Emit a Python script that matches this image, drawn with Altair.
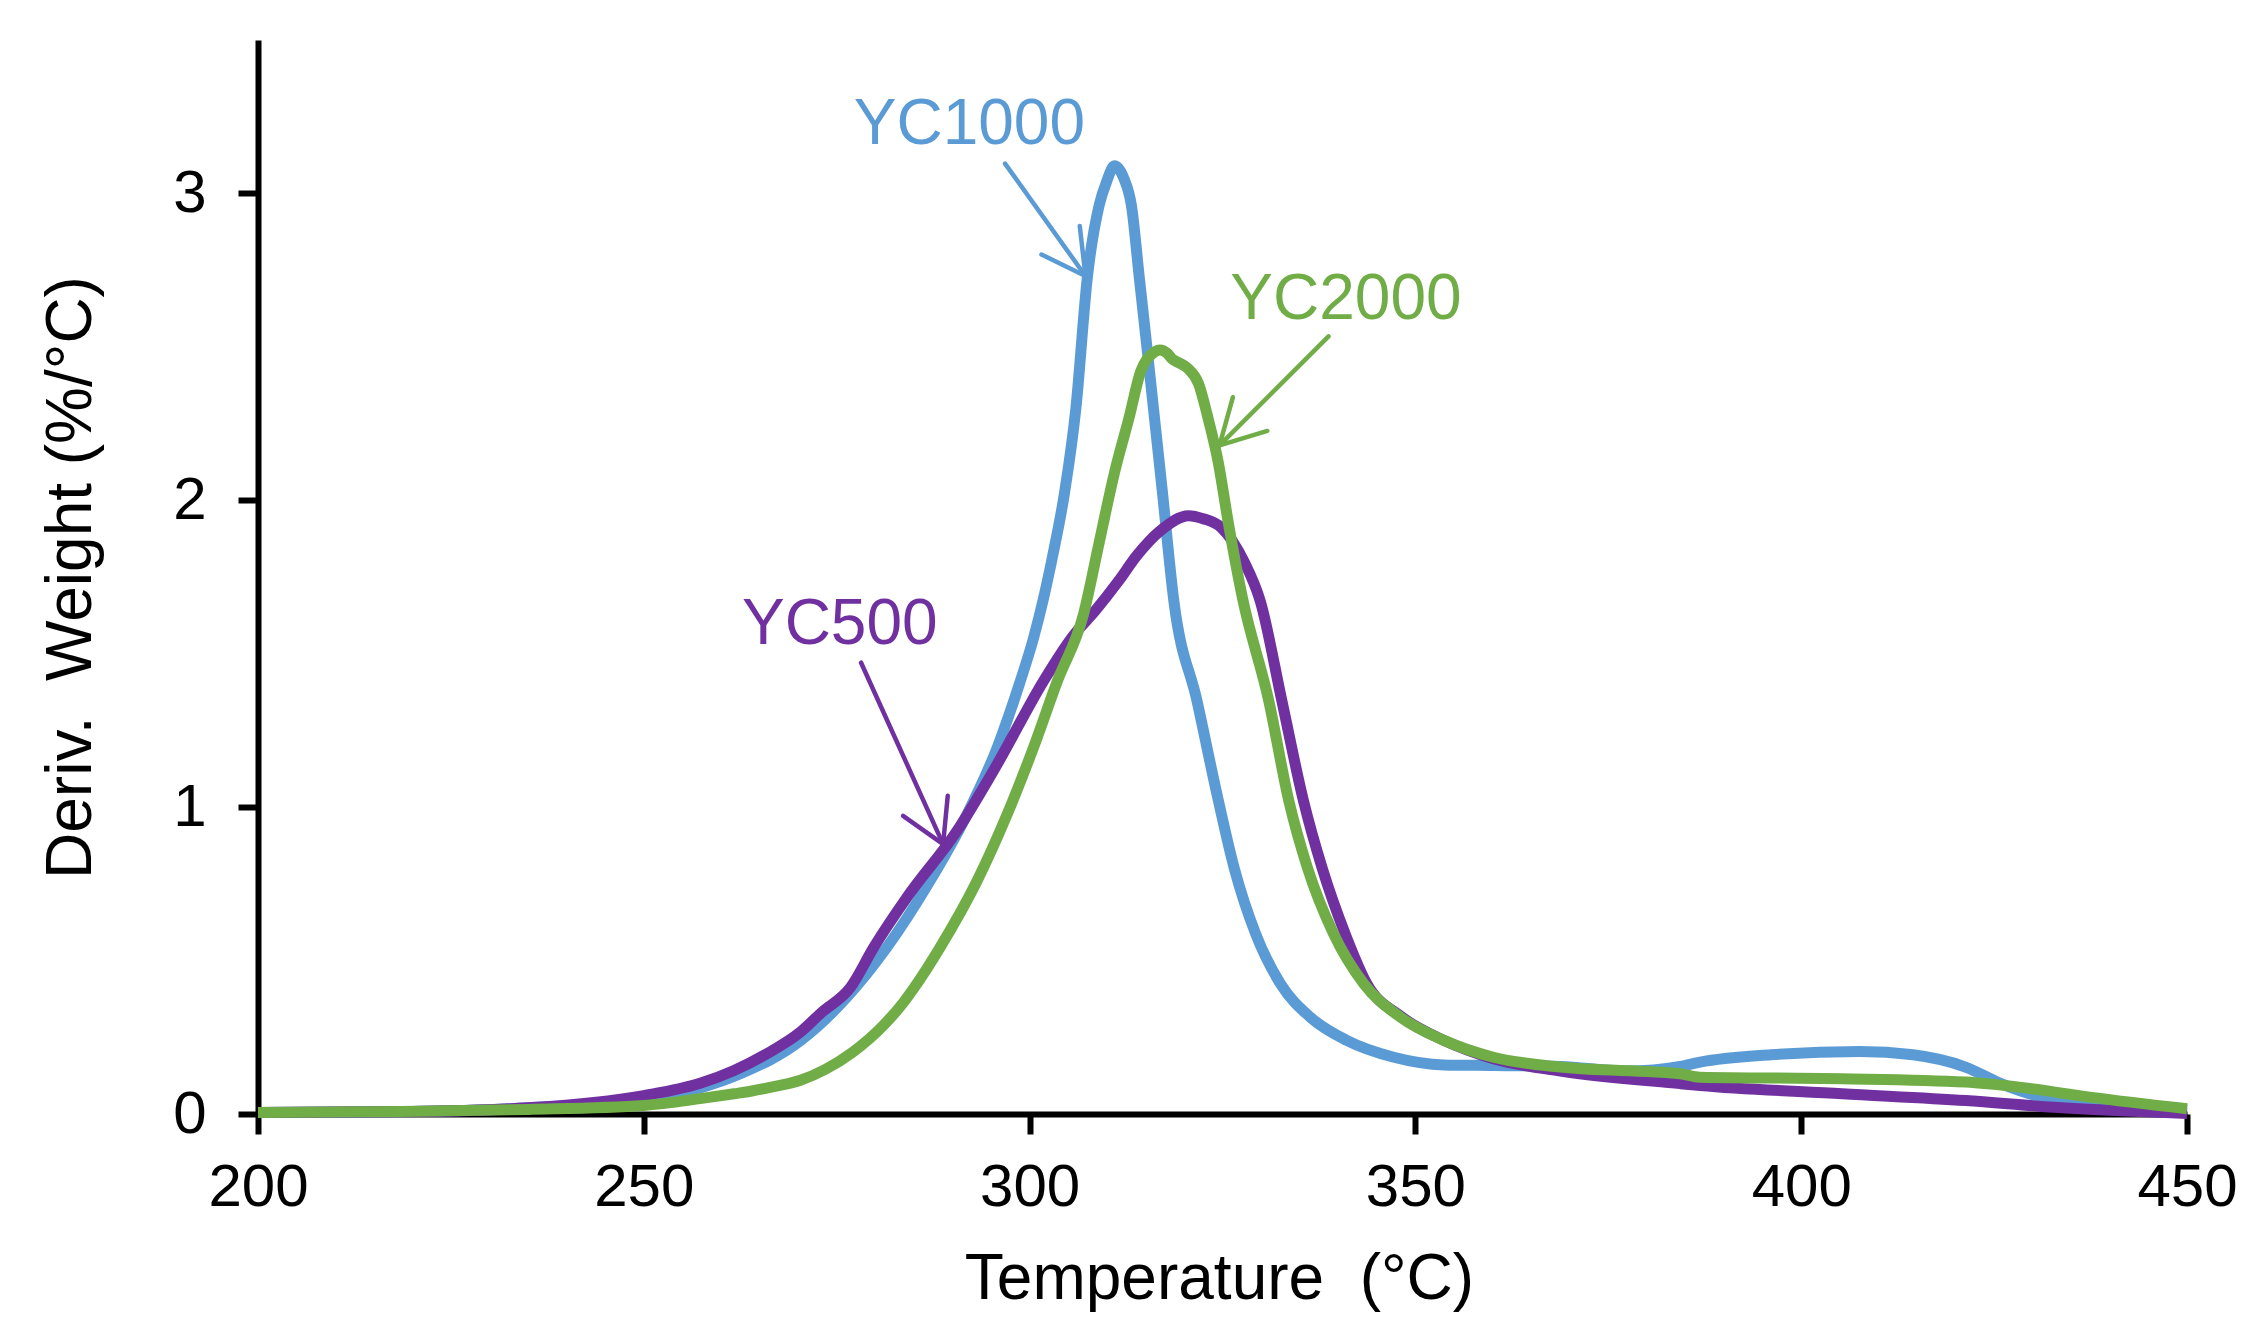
import pandas as pd
import altair as alt

# --- curves (temperature in C, deriv. weight in %/C) ---
temp_yc1000 = [200, 220, 235, 250, 257.3, 262.5, 270.3, 276.3, 281.5, 287.1, 291.9, 295.8,
               298.8, 300.5, 301.8, 303.0, 304.5, 306.0, 307.5, 309.0, 310.0, 311.0, 312.2,
               313.2, 314.2, 315.2, 317.2, 318.7, 321.7, 324.3, 326.5, 329.3, 332.5, 336.4,
               341.1, 347.2, 353.7, 360.1, 368.8, 377.4, 384.3, 386.9, 396.1, 407.6, 414.5,
               421.3, 425.9, 430.5, 439.7, 450]
dtg_yc1000 = [0.005, 0.008, 0.02, 0.05, 0.085, 0.131, 0.239, 0.38, 0.543, 0.76, 0.977, 1.194,
              1.411, 1.55, 1.68, 1.82, 2.02, 2.3, 2.73, 2.96, 3.04, 3.09, 3.05,
              2.96, 2.73, 2.5, 2.03, 1.671, 1.346, 1.04, 0.803, 0.587, 0.425, 0.315,
              0.24, 0.185, 0.16, 0.158, 0.155, 0.14, 0.155, 0.169, 0.193, 0.204, 0.193,
              0.153, 0.099, 0.06, 0.033, 0.012]

temp_yc2000 = [200, 218.5, 235, 250, 257.3, 261.7, 264, 267, 270.3, 273.5, 277, 281.1, 283.7,
               285.0, 288.4, 293.2, 297.1, 300.5, 303.6, 307.0, 309.0, 311.0, 312.9, 314.4,
               316.0, 316.9, 317.8, 318.5, 319.2, 320.5, 321.9, 323.1, 324.4, 325.8, 327.6,
               331.0, 333.6, 336.0, 339.4, 343.3, 348.1, 353.7, 360.1, 368.8, 384.3, 386.9,
               405.3, 421.3, 428.2, 437.4, 450]
dtg_yc2000 = [0.005, 0.008, 0.015, 0.028, 0.05, 0.066, 0.075, 0.09, 0.11, 0.145, 0.2, 0.29, 0.365,
              0.41, 0.543, 0.76, 0.977, 1.194, 1.411, 1.63, 1.86, 2.09, 2.27, 2.42,
              2.48, 2.49, 2.48, 2.46, 2.45, 2.43, 2.38, 2.27, 2.13, 1.92, 1.68,
              1.346, 1.02, 0.803, 0.587, 0.425, 0.315, 0.24, 0.185, 0.153, 0.131, 0.12,
              0.115, 0.104, 0.0875, 0.055, 0.017]

temp_yc500 = [200, 220, 235, 250, 257.3, 261.7, 266.0, 270.3, 273.0, 276.8, 279.8, 284.1,
              290.6, 295.8, 301.8, 305.7, 308.5, 311.5, 313.9, 316.9, 320.6, 322.5, 324.9,
              327.8, 329.9, 332.7, 335.5, 337.9, 340.9, 343.7, 348.3, 353.7, 360.1, 368.8,
              384.3, 386.9, 405.3, 421.3, 432.8, 450]
dtg_yc500 = [0.005, 0.008, 0.02, 0.06, 0.1, 0.142, 0.197, 0.267, 0.33, 0.413, 0.543, 0.706,
             0.923, 1.14, 1.411, 1.56, 1.64, 1.736, 1.82, 1.9, 1.95, 1.94, 1.91,
             1.8, 1.671, 1.346, 1.02, 0.803, 0.587, 0.425, 0.315, 0.24, 0.18, 0.14,
             0.099, 0.093, 0.066, 0.044, 0.022, 0.002]

# --- labels and arrows (data coordinates) ---
label_names = ["YC1000", "YC2000", "YC500"]
label_temp = [292.2, 341.0, 275.4]
label_dtg = [3.161, 2.592, 1.532]

arrow_names = ["YC1000", "YC1000", "YC1000", "YC2000", "YC2000", "YC2000", "YC500", "YC500", "YC500"]
arrow_t1 = [296.82, 307.24, 307.24, 338.74, 324.61, 324.61, 278.16, 288.79, 288.79]
arrow_v1 = [3.097, 2.731, 2.731, 2.534, 2.179, 2.179, 1.4707, 0.8795, 0.8795]
arrow_t2 = [307.24, 306.50, 301.54, 324.61, 326.35, 330.81, 288.79, 289.39, 283.60]
arrow_v2 = [2.731, 2.894, 2.801, 2.179, 2.336, 2.226, 0.8795, 1.0368, 0.9717]

x_ticks = [200, 250, 300, 350, 400, 450]
y_ticks = [0, 1, 2, 3]

names = ["YC1000", "YC500", "YC2000"]
colors = {"YC1000": "#5B9BD5", "YC500": "#7030A0", "YC2000": "#70AD47"}
curves = {
    "YC1000": (temp_yc1000, dtg_yc1000),
    "YC500": (temp_yc500, dtg_yc500),
    "YC2000": (temp_yc2000, dtg_yc2000),
}

font = "Arial, Liberation Sans, sans-serif"
x_scale = alt.Scale(domain=[200, 450], nice=False)
y_scale = alt.Scale(domain=[0, 3.5], nice=False)
color_scale = alt.Scale(domain=list(colors), range=list(colors.values()))

x_axis = alt.Axis(values=x_ticks, title="Temperature\u00a0 (°C)", labelPadding=24,
                  labelFlush=False, labelOverlap=False,
                  titleX=961, titleY=184, titleAnchor="start", titleAlign="center",
                  titleBaseline="alphabetic")
y_axis = alt.Axis(values=y_ticks, title="Deriv.\u00a0 Weight (%/°C)", labelPadding=32,
                  labelFlush=False, labelOverlap=False,
                  titleX=-168, titleY=537, titleAngle=-90, titleAlign="center",
                  titleBaseline="alphabetic")

X = alt.X("temp:Q", scale=x_scale, axis=x_axis)
Y = alt.Y("dtg:Q", scale=y_scale, axis=y_axis)

layers = []
for name in names:
    t, v = curves[name]
    df = pd.DataFrame({"temp": t, "dtg": v})
    layers.append(
        alt.Chart(df).mark_line(color=colors[name], strokeWidth=11, interpolate="monotone")
        .encode(x=X, y=Y, order="temp:Q")
    )

arrows = pd.DataFrame({"name": arrow_names, "temp": arrow_t1, "dtg": arrow_v1,
                       "temp2": arrow_t2, "dtg2": arrow_v2})
arrow_layer = alt.Chart(arrows).mark_rule(strokeWidth=4.5, strokeCap="round").encode(
    x=X, y=Y, x2="temp2:Q", y2="dtg2:Q",
    color=alt.Color("name:N", scale=color_scale, legend=None),
)

labels = pd.DataFrame({"name": label_names, "temp": label_temp, "dtg": label_dtg})
label_layer = alt.Chart(labels).mark_text(font=font, fontSize=64, align="center",
                                          baseline="alphabetic").encode(
    x=X, y=Y, text="name:N",
    color=alt.Color("name:N", scale=color_scale, legend=None),
)

chart = alt.layer(*layers, arrow_layer, label_layer).properties(
    width=1929,
    height=1074,
    autosize=alt.AutoSizeParams(type="none"),
    padding={"left": 250, "top": 32, "right": 55, "bottom": 210},
).configure_view(
    stroke=None
).configure_axis(
    grid=False,
    domainColor="black",
    domainWidth=6,
    tickColor="black",
    tickWidth=6,
    tickSize=20,
    labelFont=font,
    labelFontSize=60,
    labelColor="black",
    titleFont=font,
    titleFontSize=64,
    titleFontWeight="normal",
    titleColor="black",
)

chart.save("out.html", embed_options={"renderer": "svg", "actions": False})
